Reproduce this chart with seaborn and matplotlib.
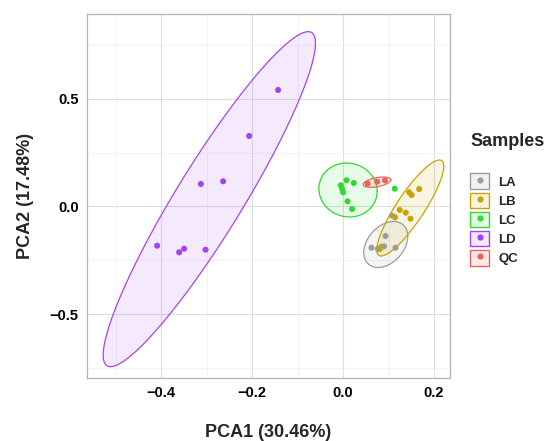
import numpy as np
import pandas as pd
import matplotlib
matplotlib.use("Agg")
import matplotlib.pyplot as plt
from matplotlib.patches import Rectangle
from matplotlib.lines import Line2D
from matplotlib.ticker import MultipleLocator
import seaborn as sns

# ---- sample scores on the first two principal components ----
la_x = [0.1077, 0.0932, 0.0624, 0.0844, 0.0901, 0.1152, 0.0763]
la_y = [-0.0427, -0.1370, -0.1913, -0.1866, -0.1848, -0.1913, -0.1970]
lb_x = [0.1673, 0.1453, 0.1505, 0.1246, 0.1378, 0.1143, 0.1481, 0.0807]
lb_y = [0.0812, 0.0659, 0.0534, -0.0162, -0.0288, -0.0501, -0.0566, -0.1973]
lc_x = [0.0075, 0.0235, -0.0051, -0.0022, 0.0000, 0.0097, 0.0198, 0.1136]
lc_y = [0.1216, 0.1091, 0.0984, 0.0826, 0.0659, 0.0241, -0.0116, 0.0826]
ld_x = [-0.1429, -0.2066, -0.2637, -0.3127, -0.4088, -0.3604, -0.3495, -0.3024]
ld_y = [0.5409, 0.3273, 0.1170, 0.1045, -0.1820, -0.2126, -0.1959, -0.2006]
qc_x = [0.054, 0.075, 0.092]
qc_y = [0.106, 0.115, 0.121]

groups = ["LA", "LB", "LC", "LD", "QC"]
colors = ["#9C9C9C", "#C9A400", "#2EDB2E", "#A444EE", "#F0605C"]

# ---- 95% confidence ellipses: centre, half-extents and correlation ----
ell_cx = [0.0938, 0.1477, 0.0108, -0.2941, 0.0745]
ell_cy = [-0.1764, -0.0070, 0.0766, 0.0339, 0.1128]
ell_sx = [0.0484, 0.0736, 0.0641, 0.2334, 0.0304]
ell_sy = [0.1068, 0.2228, 0.1253, 0.7776, 0.0239]
ell_rho = [0.35, 0.87, -0.05, 0.9306, 0.45]

xs = [la_x, lb_x, lc_x, ld_x, qc_x]
ys = [la_y, lb_y, lc_y, ld_y, qc_y]
df = pd.concat(
    [pd.DataFrame({"PC1": x, "PC2": y, "Samples": g}) for x, y, g in zip(xs, ys, groups)],
    ignore_index=True,
)

sns.set_theme(style="white")
plt.rcParams["font.family"] = ["Liberation Sans", "DejaVu Sans"]

fig = plt.figure(figsize=(5.45, 4.41), dpi=100)
ax = fig.add_axes([87 / 545, 1 - 378 / 441, (450 - 87) / 545, (378 - 14.3) / 441])


def ellipse_outline(cx, cy, sx, sy, rho, n=240):
    t = np.linspace(0, 2 * np.pi, n)
    cov = np.array([[sx * sx, rho * sx * sy], [rho * sx * sy, sy * sy]])
    L = np.linalg.cholesky(cov)
    pts = L @ np.vstack([np.cos(t), np.sin(t)])
    return cx + pts[0], cy + pts[1]


for i, col in enumerate(colors):
    ex, ey = ellipse_outline(ell_cx[i], ell_cy[i], ell_sx[i], ell_sy[i], ell_rho[i])
    ax.fill(ex, ey, color=col, alpha=0.11, lw=0, zorder=2)
    ax.plot(ex, ey, color=col, lw=0.9, zorder=3)

sns.scatterplot(
    data=df, x="PC1", y="PC2", hue="Samples", hue_order=groups,
    palette=dict(zip(groups, colors)), s=19, linewidth=0, ax=ax,
    legend=False, zorder=4,
)

ax.set_xlim(-0.563, 0.235)
ax.set_ylim(-0.796, 0.892)
ax.xaxis.set_major_locator(MultipleLocator(0.2))
ax.xaxis.set_minor_locator(MultipleLocator(0.1))
ax.yaxis.set_major_locator(MultipleLocator(0.5))
ax.yaxis.set_minor_locator(MultipleLocator(0.25))
ax.grid(which="major", color="#DEDEDE", lw=0.8)
ax.grid(which="minor", color="#EEEEEE", lw=0.5)
ax.set_axisbelow(True)
for sp in ax.spines.values():
    sp.set_color("#B3B3B3")
    sp.set_linewidth(0.9)
ax.tick_params(which="major", length=3, width=0.8, color="#B3B3B3",
               labelsize=10.5, labelcolor="black", pad=3, direction="out")
ax.tick_params(which="minor", length=0)
for lab in ax.get_xticklabels() + ax.get_yticklabels():
    lab.set_fontweight("bold")

ax.set_xlabel("PCA1 (30.46%)", fontsize=13, fontweight="bold", labelpad=17)
ax.set_ylabel("PCA2 (17.48%)", fontsize=13, fontweight="bold", labelpad=11)

# legend keys: tinted square with a dot in the middle
handles = []
for col in colors:
    box = Rectangle((0, 0), 1, 1, facecolor=matplotlib.colors.to_rgba(col, 0.12),
                    edgecolor=col, lw=1.0)
    dot = Line2D([], [], marker="o", color=col, ls="", markersize=4.5, markeredgewidth=0)
    handles.append((box, dot))

fig.text(470 / 545, 1 - 141.5 / 441, "Samples", fontsize=13, fontweight="bold",
         ha="left", va="center")
leg = fig.legend(handles, groups, loc="upper left",
                 bbox_to_anchor=(470 / 545, 1 - 173.5 / 441), frameon=False,
                 handlelength=1.45, handleheight=1.45, handletextpad=0.7,
                 labelspacing=0.26, borderpad=0, borderaxespad=0,
                 prop={"size": 9.5, "weight": "bold"})

fig.savefig("out.png", dpi=100, facecolor="white")
